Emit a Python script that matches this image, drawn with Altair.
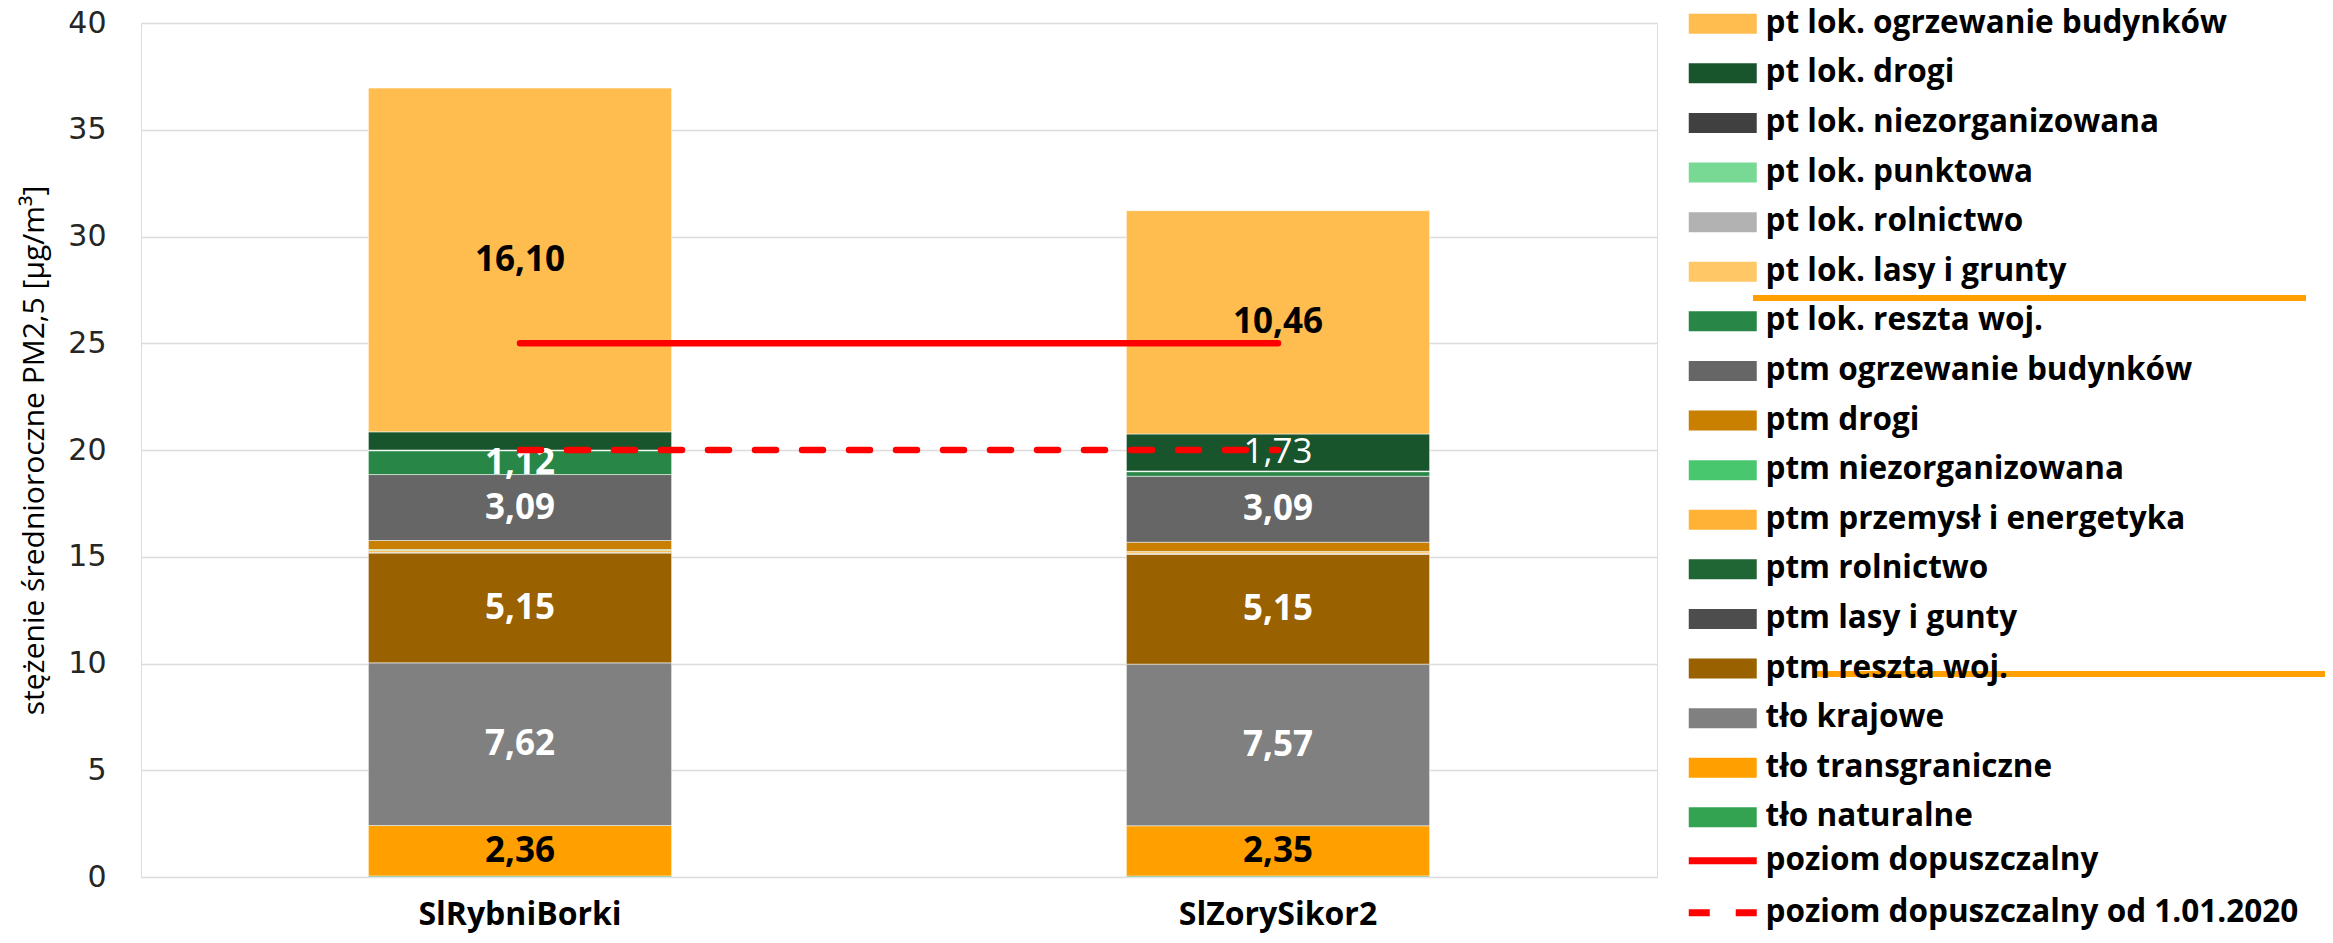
import altair as alt
import pandas as pd

# ---------------- data ----------------
stacje = ["SlRybniBorki", "SlZorySikor2"]

# stacking order: bottom -> top
serie = [
    "tło naturalne",
    "tło transgraniczne",
    "tło krajowe",
    "ptm reszta woj.",
    "ptm lasy i gunty",
    "ptm rolnictwo",
    "ptm przemysł i energetyka",
    "ptm niezorganizowana",
    "ptm drogi",
    "ptm ogrzewanie budynków",
    "pt lok. reszta woj.",
    "pt lok. lasy i grunty",
    "pt lok. rolnictwo",
    "pt lok. punktowa",
    "pt lok. niezorganizowana",
    "pt lok. drogi",
    "pt lok. ogrzewanie budynków",
]

wartosci_borki = [0.05, 2.36, 7.62, 5.15, 0.01, 0.02, 0.08, 0.05, 0.42, 3.09,
                  1.12, 0.00, 0.01, 0.02, 0.00, 0.85, 16.10]
wartosci_sikor = [0.05, 2.35, 7.57, 5.15, 0.01, 0.02, 0.08, 0.02, 0.43, 3.09,
                  0.22, 0.00, 0.00, 0.03, 0.00, 1.73, 10.46]

kolory = [
    "#33A352",  # tło naturalne
    "#FFA000",  # tło transgraniczne
    "#808080",  # tło krajowe
    "#996100",  # ptm reszta woj.
    "#4D4D4D",  # ptm lasy i gunty
    "#206635",  # ptm rolnictwo
    "#FFB235",  # ptm przemysł i energetyka
    "#48C76E",  # ptm niezorganizowana
    "#C97F00",  # ptm drogi
    "#666666",  # ptm ogrzewanie budynków
    "#288747",  # pt lok. reszta woj.
    "#FFC766",  # pt lok. lasy i grunty
    "#B2B2B2",  # pt lok. rolnictwo
    "#77D994",  # pt lok. punktowa
    "#404040",  # pt lok. niezorganizowana
    "#18542C",  # pt lok. drogi
    "#FFBC4F",  # pt lok. ogrzewanie budynków
]

linie_nazwy = ["poziom dopuszczalny", "poziom dopuszczalny od 1.01.2020"]
linie_wartosci = [25, 20]

ciemne_etykiety = ["tło transgraniczne", "pt lok. ogrzewanie budynków"]

# ---------------- tables ----------------
rows = []
for st, vals in zip(stacje, [wartosci_borki, wartosci_sikor]):
    for i, (s, v) in enumerate(zip(serie, vals)):
        rows.append({"stacja": st, "seria": s, "wartosc": v, "kolejnosc": i})
df = pd.DataFrame(rows)

lrows = []
for n, v in zip(linie_nazwy, linie_wartosci):
    for st in stacje:
        lrows.append({"stacja": st, "linia": n, "poziom": v})
dfl = pd.DataFrame(lrows)

FONT = "Open Sans"
LEG_FS = 31.5

x_enc = alt.X(
    "stacja:N",
    sort=stacje,
    title=None,
    scale=alt.Scale(paddingInner=0.6, paddingOuter=0.3),
    axis=alt.Axis(labelAngle=0, labelFont=FONT, labelFontSize=32, labelFontWeight="bold",
                  labelColor="black", labelPadding=22, labelLimit=600, domain=False, ticks=False),
)

y_scale = alt.Scale(domain=[0, 40], nice=False)

base = alt.Chart(df).transform_stack(
    stack="wartosc",
    groupby=["stacja"],
    as_=["y0", "y1"],
    sort=[alt.SortField("kolejnosc", order="ascending")],
)

bars = base.mark_bar(stroke="white", strokeWidth=1, strokeOpacity=0.5).encode(
    x=x_enc,
    y=alt.Y(
        "y0:Q",
        scale=y_scale,
        title="stężenie średnioroczne PM2,5 [µg/m³]",
        axis=alt.Axis(values=list(range(0, 41, 5)), labelFont="DejaVu Sans", labelFontSize=30,
                      labelColor="#262626", labelPadding=35, domain=False, ticks=False,
                      grid=True, gridColor="#DCDCDC", gridWidth=1.5,
                      titleFont=FONT, titleFontSize=30, titleFontWeight="normal",
                      titleColor="black", titlePadding=18),
    ),
    y2="y1:Q",
    color=alt.Color(
        "seria:N",
        scale=alt.Scale(domain=serie[::-1], range=kolory[::-1]),
        legend=alt.Legend(
            title=None, orient="none", legendX=1566, legendY=-15, padding=0,
            symbolType="M-3.4,-1H3.4V1H-3.4Z", symbolSize=400, symbolStrokeWidth=0,
            symbolOpacity=1, labelFont=FONT, labelFontSize=LEG_FS, labelFontWeight="bold",
            labelColor="black", labelLimit=800, labelOffset=27, rowPadding=16.6,
            symbolLimit=40,
        ),
    ),
)

labels_base = base.transform_filter("datum.wartosc >= 1").transform_calculate(
    mid="(datum.y0 + datum.y1) / 2",
    txt="replace(format(datum.wartosc, '.2f'), '.', ',')",
    ciemny="indexof(" + str(ciemne_etykiety).replace("'", '"') + ", datum.seria) >= 0",
)

text_enc = dict(
    x=alt.X("stacja:N", sort=stacje),
    y=alt.Y("mid:Q", scale=y_scale),
    text="txt:N",
    color=alt.condition("datum.ciemny", alt.value("black"), alt.value("white")),
)

labels_bold = labels_base.transform_filter(
    "!(datum.stacja == 'SlZorySikor2' && datum.seria == 'pt lok. drogi')"
).mark_text(font=FONT, fontSize=35, fontWeight="bold", baseline="middle").encode(**text_enc)

labels_norm = labels_base.transform_filter(
    "datum.stacja == 'SlZorySikor2' && datum.seria == 'pt lok. drogi'"
).mark_text(font=FONT, fontSize=35, fontWeight="normal", baseline="middle").encode(**text_enc)

lines = alt.Chart(dfl).mark_line(color="#FF0000", strokeWidth=6.5, strokeCap="round").encode(
    x=alt.X("stacja:N", sort=stacje),
    y=alt.Y("poziom:Q", scale=y_scale),
    strokeDash=alt.StrokeDash(
        "linia:N",
        scale=alt.Scale(domain=linie_nazwy, range=[[1, 0], [21, 26]]),
        legend=alt.Legend(
            title=None, orient="none", legendX=1566, legendY=822, padding=0,
            symbolType="M-3.4,0H3.4", symbolSize=400, symbolStrokeColor="#FF0000",
            symbolStrokeWidth=7, labelFont=FONT, labelFontSize=LEG_FS, labelFontWeight="bold",
            labelColor="black", labelLimit=800, labelOffset=27, rowPadding=19,
        ),
    ),
    detail="linia:N",
)

# orange annotation strokes drawn over the legend in the original picture
anno1 = alt.Chart(df).mark_rule(color="#FFA000", strokeWidth=6, clip=False).encode(
    x=alt.value(1612), x2=alt.value(2165), y=alt.value(275)
)
anno2 = alt.Chart(df).mark_rule(color="#FFA000", strokeWidth=6, clip=False).encode(
    x=alt.value(1674), x2=alt.value(2210), y=alt.value(651)
)

chart = alt.layer(bars, labels_bold, labels_norm, lines, anno1, anno2).resolve_scale(
    color="independent"
).properties(
    width=1516,
    height=854,
    autosize=alt.AutoSizeParams(type="none"),
    padding={"left": 133, "top": 15, "right": 668, "bottom": 56},
).configure_view(stroke=None).configure(background="white")

chart.save("out.html", embed_options={"renderer": "svg", "actions": False})
